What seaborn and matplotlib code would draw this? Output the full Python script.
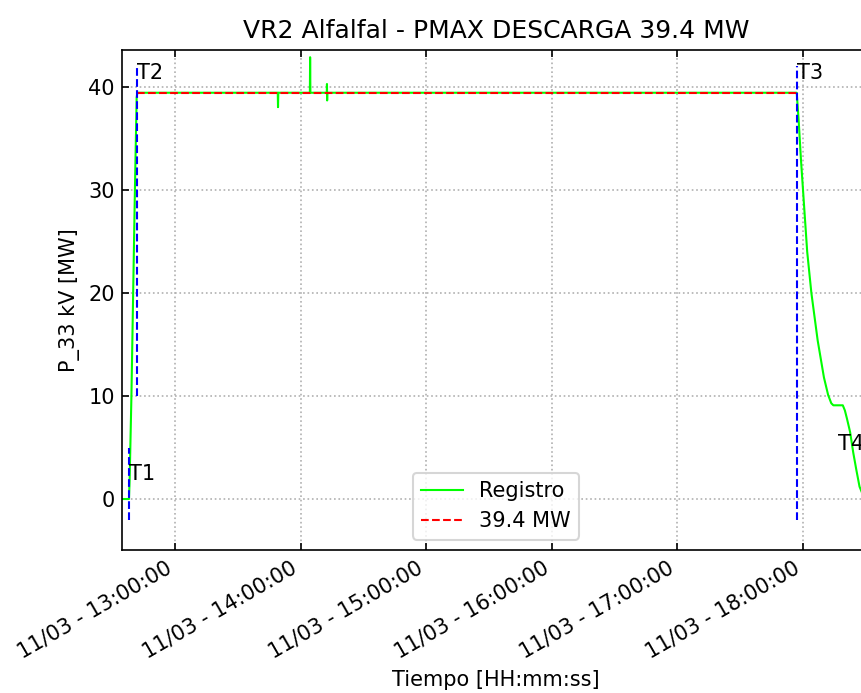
import matplotlib
matplotlib.use("Agg")
import matplotlib.pyplot as plt
import matplotlib.dates as mdates
import seaborn as sns
import pandas as pd

day = "2023-03-11 "

# Registro (green) series
reg_times = ["12:34:40", "12:38:00", "12:38:20", "12:38:45", "12:39:10", "12:40:00",
             "12:40:50", "12:41:40", "12:42:00",
             "13:49:05", "13:49:12", "13:49:20",
             "14:04:25", "14:04:32", "14:04:40",
             "14:12:30", "14:12:35", "14:12:40", "14:12:45",
             "17:57:00", "17:58:00", "17:59:00", "18:00:00", "18:02:00", "18:04:00",
             "18:07:00", "18:10:00", "18:12:00", "18:13:30", "18:14:30", "18:19:00",
             "18:20:00", "18:21:00", "18:22:30", "18:24:00", "18:25:30", "18:27:00",
             "18:29:00", "18:32:00"]
reg_values = [0, 0, 2, 6, 10, 20,
              30, 39.0, 39.45,
              39.45, 38.05, 39.45,
              39.45, 42.9, 39.45,
              39.45, 40.3, 38.7, 39.45,
              39.45, 36.5, 33, 30, 24, 20,
              15.4, 11.8, 10.1, 9.3, 9.1, 9.1,
              8.6, 7.8, 6.5, 4.5, 2.8, 1.2,
              0.2, 0]

pmax = 39.4
pmax_label = "39.4 MW"

# T markers: time, vline y-range, label position
t_names = ["T1", "T2", "T3"]
t_times = ["12:38:00", "12:41:50", "17:57:00"]
t_ymin = [-2, 10, -2]
t_ymax = [5, 42, 42]
t_label_y = [1.8, 40.8, 40.8]
t4_time = "18:16:40"
t4_y = 4.75

xlim = ["12:34:40", "18:32:00"]
ylim = (-4.95, 43.6)

def ts(s):
    return pd.Timestamp(day + s)

df = pd.DataFrame({"Tiempo": [ts(s) for s in reg_times], "P": reg_values})
df_ref = pd.DataFrame({"Tiempo": [ts(t_times[1]), ts(t_times[2])], "P": [pmax, pmax]})

dpi = 150
fig = plt.figure(figsize=(861 / dpi, 693 / dpi), dpi=dpi)
ax = fig.add_axes([122 / 861, 1 - 550 / 693, (870 - 122) / 861, 500 / 693])

sns.lineplot(data=df, x="Tiempo", y="P", ax=ax, color="#00ff00", lw=1.0, label="Registro")
sns.lineplot(data=df_ref, x="Tiempo", y="P", ax=ax, color="red", lw=1.0,
             linestyle="--", label=pmax_label)

for name, t, y0, y1, ly in zip(t_names, t_times, t_ymin, t_ymax, t_label_y):
    ax.vlines(ts(t), y0, y1, colors="blue", linestyles="--", lw=1.0)
    ax.text(ts(t), ly, name, fontsize=10)
ax.text(ts(t4_time), t4_y, "T4", fontsize=10)

ax.set_xlim(ts(xlim[0]), ts(xlim[1]))
ax.set_ylim(*ylim)
ax.set_yticks([0, 10, 20, 30, 40])
ax.xaxis.set_major_locator(mdates.HourLocator())
ax.xaxis.set_major_formatter(mdates.DateFormatter("%d/%m - %H:%M:%S"))
plt.setp(ax.get_xticklabels(), rotation=30, ha="right")
ax.tick_params(direction="in", top=True, right=True)
ax.grid(True, linestyle=":", color="#b0b0b0", lw=0.8)

ax.set_title("VR2 Alfalfal - PMAX DESCARGA 39.4 MW", fontsize=12)
ax.set_xlabel("Tiempo [HH:mm:ss]")
ax.set_ylabel("P_33 kV [MW]")
ax.legend(loc="lower center")

fig.savefig("out.png", dpi=dpi)
